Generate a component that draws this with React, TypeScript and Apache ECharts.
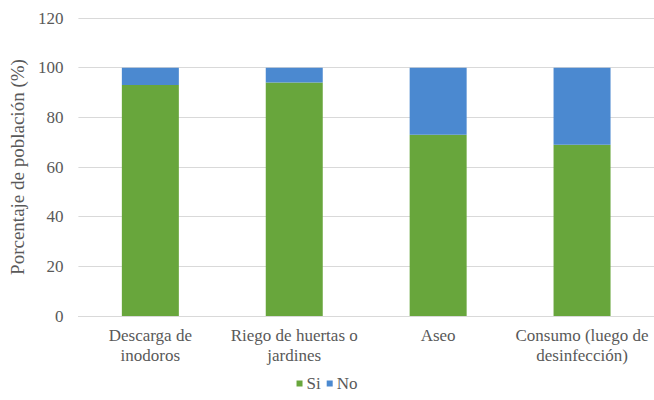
import React, { useEffect, useRef } from "react";
import * as echarts from "echarts";

const categories = ["Descarga de\ninodoros", "Riego de huertas o\njardines", "Aseo", "Consumo (luego de\ndesinfección)"];
const siValues = [93, 94, 73, 69];
const noValues = [7, 6, 27, 31];
const seriesNames = ["Si", "No"];
const yTicks = { min: 0, max: 120, interval: 20 };

const FONT = "Liberation Serif";
const TEXT = "#595959";

export default function App() {
  const ref = useRef<HTMLDivElement>(null);
  useEffect(() => {
    const chart = echarts.init(ref.current!, null, { renderer: "svg" });
    chart.setOption({
      animation: false,
      backgroundColor: "#ffffff",
      textStyle: { fontFamily: FONT },
      grid: { left: 78, right: 0, top: 18, bottom: 84 },
      legend: {
        top: 375,
        left: "center",
        itemWidth: 6,
        itemHeight: 6,
        itemGap: 6,
        icon: "rect",
        padding: 0,
        textStyle: { fontFamily: FONT, fontSize: 17, color: TEXT, padding: [0, 0, 0, -1] },
        data: seriesNames,
      },
      xAxis: {
        type: "category",
        data: categories,
        axisLine: { lineStyle: { color: "#d9d9d9", width: 1 } },
        axisTick: { show: false },
        axisLabel: { fontFamily: FONT, fontSize: 17, color: TEXT, lineHeight: 20, margin: 9, interval: 0 },
      },
      yAxis: {
        type: "value",
        min: yTicks.min,
        max: yTicks.max,
        interval: yTicks.interval,
        name: "Porcentaje de población (%)",
        nameLocation: "middle",
        nameGap: 43,
        nameTextStyle: { fontFamily: FONT, fontSize: 19, color: TEXT },
        axisLine: { show: false },
        axisTick: { show: false },
        axisLabel: { fontFamily: FONT, fontSize: 17, color: TEXT, margin: 15 },
        splitLine: { lineStyle: { color: "#d9d9d9", width: 1 } },
      },
      series: [
        { name: seriesNames[0], type: "bar", stack: "total", data: siValues, barWidth: 57, itemStyle: { color: "#68a63c" } },
        { name: seriesNames[1], type: "bar", stack: "total", data: noValues, barWidth: 57, itemStyle: { color: "#4b89d0" } },
      ],
    });
    return () => chart.dispose();
  }, []);
  return <div ref={ref} style={{ position: "fixed", left: 0, top: 0, width: 654, height: 400, background: "#fff" }} />;
}
